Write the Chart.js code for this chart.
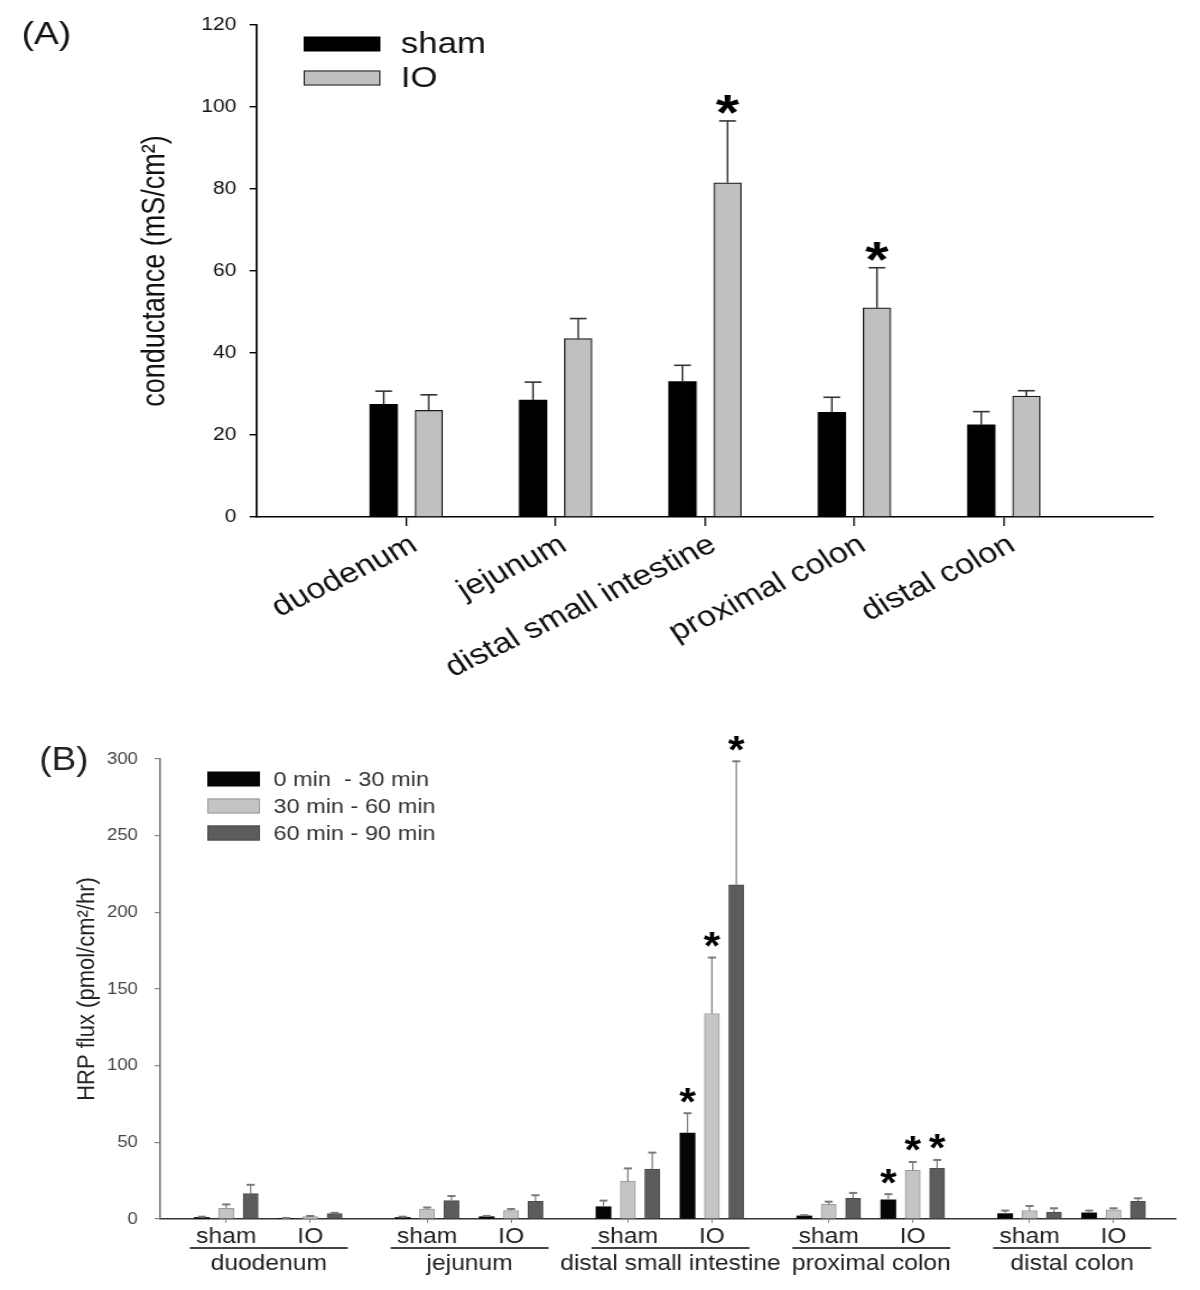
<!DOCTYPE html>
<html><head><meta charset="utf-8">
<script src="https://cdn.jsdelivr.net/npm/chart.js@4.4.1/dist/chart.umd.min.js"></script>
<style>
html,body{margin:0;padding:0;background:#fff;}
#wrap{position:relative;width:1200px;height:1290px;background:#fff;overflow:hidden;}
canvas{position:absolute;left:0;}
</style></head><body>
<div id="wrap">
<canvas id="a" width="1000" height="700" style="top:0px;width:1200px;height:700px;"></canvas>
<canvas id="b" width="1071" height="590" style="top:700px;width:1200px;height:590px;"></canvas>
</div>
<script>
const FONT = '"Liberation Sans", Arial, sans-serif';

// ---------- Panel A data ----------
const panelA = '(A)';
const regionsA = ['duodenum', 'jejunum', 'distal small intestine', 'proximal colon', 'distal colon'];
const groupsA = ['sham', 'IO'];
const shamA   = [27.5, 28.5, 33.0, 25.5, 22.5];
const shamSEA = [3.2, 4.4, 4.0, 3.7, 3.2];
const ioA     = [26.0, 43.5, 81.5, 51.0, 29.5];
const ioSEA   = [3.8, 4.9, 15.1, 9.8, 1.3];
const sigShamA = [false, false, false, false, false];
const sigIoA   = [false, false, true, true, false];
const yTicksA  = [0, 20, 40, 60, 80, 100, 120];

// ---------- Panel B data ----------
const panelB = '(B)';
const regionsB = ['duodenum', 'jejunum', 'distal small intestine', 'proximal colon', 'distal colon'];
const conditionsB = ['sham', 'IO'];
const periodsB = ['0 min  - 30 min', '30 min - 60 min', '60 min - 90 min'];
// order: duodenum sham, duodenum IO, jejunum sham, jejunum IO, dsi sham, dsi IO, pc sham, pc IO, dc sham, dc IO
const flux0_30    = [1.0, 0.4, 1.0, 1.5, 8.0, 56.0, 2.0, 12.5, 3.5, 4.0];
const flux0_30SE  = [0.5, 0.3, 0.5, 0.5, 4.0, 13.0, 0.5, 3.7, 2.0, 1.5];
const flux30_60   = [7.0, 1.5, 6.5, 5.5, 24.7, 134.0, 9.5, 31.8, 5.5, 6.0];
const flux30_60SE = [2.5, 0.5, 1.0, 1.0, 8.3, 36.5, 1.8, 5.4, 3.0, 1.0];
const flux60_90   = [16.5, 3.5, 12.0, 11.5, 32.5, 218.0, 13.5, 33.0, 4.5, 11.5];
const flux60_90SE = [5.8, 0.5, 3.0, 4.0, 10.8, 80.5, 3.5, 5.5, 2.5, 2.0];
const sig0_30  = [false, false, false, false, false, true, false, true, false, false];
const sig30_60 = [false, false, false, false, false, true, false, true, false, false];
const sig60_90 = [false, false, false, false, false, true, false, true, false, false];
const yTicksB  = [0, 50, 100, 150, 200, 250, 300];

// ---------- shared plugins ----------
function drawStar(ctx, x, centerY, size, color) {
  ctx.save();
  ctx.font = 'bold ' + size + 'px ' + FONT;
  ctx.fillStyle = color;
  ctx.textAlign = 'center';
  ctx.textBaseline = 'alphabetic';
  const m = ctx.measureText('*');
  const base = centerY - (m.actualBoundingBoxDescent - m.actualBoundingBoxAscent) / 2;
  ctx.fillText('*', x, base);
  ctx.restore();
}

const errorBarPlugin = {
  id: 'errbars',
  afterDatasetsDraw(chart, args, opts) {
    const ctx = chart.ctx;
    const ys = chart.scales.y;
    chart.data.datasets.forEach((ds, di) => {
      const meta = chart.getDatasetMeta(di);
      meta.data.forEach((el, i) => {
        const v = ds.data[i].y;
        const e = ds.errors[i];
        const yTop = ys.getPixelForValue(v + e);
        ctx.save();
        ctx.strokeStyle = opts.color;
        ctx.lineWidth = opts.lineWidth;
        ctx.beginPath();
        ctx.moveTo(el.x, el.y);
        ctx.lineTo(el.x, yTop);
        ctx.stroke();
        ctx.lineWidth = opts.capWidth;
        ctx.beginPath();
        ctx.moveTo(el.x - opts.cap, yTop);
        ctx.lineTo(el.x + opts.cap, yTop);
        ctx.stroke();
        ctx.restore();
        if (ds.sig && ds.sig[i]) {
          drawStar(ctx, el.x, yTop - opts.starGap, opts.starSize, '#000');
        }
      });
    });
  }
};

const customLegend = {
  id: 'customLegend',
  afterDraw(chart, args, opts) {
    const ctx = chart.ctx;
    chart.data.datasets.forEach((ds, i) => {
      const y = opts.y + i * opts.step;
      ctx.save();
      ctx.fillStyle = ds.backgroundColor;
      ctx.fillRect(opts.x, y - opts.boxH / 2, opts.boxW, opts.boxH);
      if (ds.borderWidth) {
        ctx.strokeStyle = ds.borderColor;
        ctx.lineWidth = 1;
        ctx.strokeRect(opts.x + 0.5, y - opts.boxH / 2 + 0.5, opts.boxW - 1, opts.boxH - 1);
      }
      ctx.font = opts.fontSize + 'px ' + FONT;
      ctx.fillStyle = opts.color;
      ctx.textAlign = 'left';
      ctx.textBaseline = 'middle';
      ctx.fillText(ds.label, opts.x + opts.boxW + opts.gap, y + 1);
      ctx.restore();
    });
  }
};

const panelLabel = {
  id: 'panelLabel',
  afterDraw(chart, args, opts) {
    const ctx = chart.ctx;
    ctx.save();
    ctx.font = opts.size + 'px ' + FONT;
    ctx.fillStyle = opts.color;
    ctx.textAlign = 'left';
    ctx.textBaseline = 'middle';
    ctx.fillText(opts.text, opts.x, opts.y);
    ctx.restore();
  }
};

// ---------- Panel A ----------
const offA = 0.151;
const xA = (r, g) => r + 1 + (g === 0 ? -offA : offA);
new Chart(document.getElementById('a'), {
  type: 'bar',
  data: {
    datasets: [
      {
        label: groupsA[0],
        data: shamA.map((v, i) => ({ x: xA(i, 0), y: v })),
        errors: shamSEA, sig: sigShamA,
        backgroundColor: '#000000', borderColor: '#000000', borderWidth: 0,
        barThickness: 23, grouped: false
      },
      {
        label: groupsA[1],
        data: ioA.map((v, i) => ({ x: xA(i, 1), y: v })),
        errors: ioSEA, sig: sigIoA,
        backgroundColor: '#c0c0c0', borderColor: '#1a1a1a', borderWidth: 1.2,
        barThickness: 23, grouped: false
      }
    ]
  },
  options: {
    responsive: false, animation: false, devicePixelRatio: 1,
    layout: { padding: { left: 0, right: 39, top: 25, bottom: 0 } },
    plugins: {
      legend: { display: false }, tooltip: { enabled: false },
      errbars: { color: '#333', lineWidth: 1.4, capWidth: 1.6, cap: 7, starGap: 16, starSize: 50 },
      customLegend: { x: 253, y: 44, step: 34, boxW: 64, boxH: 15, gap: 17, fontSize: 29, color: '#111' },
      panelLabel: { text: panelA, x: 18, y: 35, size: 31, color: '#111' }
    },
    scales: {
      x: {
        type: 'linear', min: 0, max: 6, offset: false,
        afterBuildTicks: (s) => { s.ticks = regionsA.map((_, i) => ({ value: i + 1 })); },
        afterFit: (s) => { s.height = 183; },
        border: { display: true, color: '#000', width: 1.6 },
        grid: { offset: false, drawOnChartArea: false, drawTicks: true, tickLength: 9, color: '#000', lineWidth: 1.3 },
        ticks: {
          minRotation: 30, maxRotation: 30, padding: 2, labelOffset: 7, autoSkip: false,
          color: '#111', font: { family: FONT, size: 28.5 },
          callback: (v, i) => regionsA[i]
        }
      },
      y: {
        type: 'linear', min: 0, max: 120,
        afterBuildTicks: (s) => { s.ticks = yTicksA.map(v => ({ value: v })); },
        afterFit: (s) => { s.width = 214; },
        border: { display: true, color: '#000', width: 1.6 },
        grid: { drawOnChartArea: false, drawTicks: true, tickLength: 6, color: '#000', lineWidth: 1.4 },
        ticks: { padding: 11, color: '#111', font: { family: FONT, size: 17.5 } },
        title: {
          display: true, text: 'conductance (mS/cm²)', color: '#111',
          font: { family: FONT, size: 27 }, padding: { top: 113, bottom: 0 }
        }
      }
    }
  },
  plugins: [errorBarPlugin, customLegend, panelLabel]
});

// ---------- Panel B ----------
const xB = (r, c, p) => 1.65 + 5.02 * r + 2.1 * c + 0.61 * (p - 1);
const subIdx = regionsB.flatMap((_, r) => conditionsB.map((_, c) => [r, c]));
const mk = (label, vals, errs, sig, p, bg, bc, bw) => ({
  label,
  data: vals.map((v, i) => ({ x: xB(subIdx[i][0], subIdx[i][1], p), y: v })),
  errors: errs, sig,
  backgroundColor: bg, borderColor: bc, borderWidth: bw,
  barThickness: 13.4, grouped: false
});

const groupLabelsB = {
  id: 'groupLabelsB',
  afterDraw(chart) {
    const ctx = chart.ctx;
    const xs = chart.scales.x;
    const m0 = chart.getDatasetMeta(0), m2 = chart.getDatasetMeta(2);
    regionsB.forEach((name, r) => {
      const a = m0.data[2 * r], b = m2.data[2 * r + 1];
      const left = a.x - a.width / 2 - 4, right = b.x + b.width / 2 + 5;
      const y = xs.top + 29;
      ctx.save();
      ctx.strokeStyle = '#444';
      ctx.lineWidth = 2;
      ctx.beginPath();
      ctx.moveTo(left, y);
      ctx.lineTo(right, y);
      ctx.stroke();
      ctx.font = '22px ' + FONT;
      ctx.fillStyle = '#222';
      ctx.textAlign = 'center';
      ctx.textBaseline = 'middle';
      ctx.fillText(name, (left + right) / 2, y + 16);
      ctx.restore();
    });
  }
};

new Chart(document.getElementById('b'), {
  type: 'bar',
  data: {
    datasets: [
      mk(periodsB[0], flux0_30, flux0_30SE, sig0_30, 0, '#050505', '#050505', 0),
      mk(periodsB[1], flux30_60, flux30_60SE, sig30_60, 1, '#c4c4c4', '#9a9a9a', 1),
      mk(periodsB[2], flux60_90, flux60_90SE, sig60_90, 2, '#5c5c5c', '#4a4a4a', 1)
    ]
  },
  options: {
    responsive: false, animation: false, devicePixelRatio: 1,
    layout: { padding: { left: 0, right: 22, top: 59, bottom: 0 } },
    plugins: {
      legend: { display: false }, tooltip: { enabled: false },
      errbars: { color: '#7a7a7a', lineWidth: 1.2, capWidth: 2, cap: 3.6, starGap: 18, starSize: 38 },
      customLegend: { x: 185, y: 79, step: 27, boxW: 47, boxH: 15, gap: 12, fontSize: 21, color: '#333' },
      panelLabel: { text: panelB, x: 35, y: 61, size: 33, color: '#222' }
    },
    scales: {
      x: {
        type: 'linear', min: 0, max: 25.375, offset: false,
        afterBuildTicks: (s) => { s.ticks = subIdx.map(([r, c]) => ({ value: xB(r, c, 1) })); },
        afterFit: (s) => { s.height = 71; },
        border: { display: true, color: '#333', width: 1.6 },
        grid: { offset: false, drawOnChartArea: false, drawTicks: true, tickLength: 4, color: '#888', lineWidth: 1 },
        ticks: {
          minRotation: 0, maxRotation: 0, padding: 1, autoSkip: false,
          color: '#222', font: { family: FONT, size: 22 },
          callback: (v, i) => conditionsB[subIdx[i][1]]
        }
      },
      y: {
        type: 'linear', min: 0, max: 300,
        afterBuildTicks: (s) => { s.ticks = yTicksB.map(v => ({ value: v })); },
        afterFit: (s) => { s.width = 143; },
        border: { display: true, color: '#777', width: 1.6 },
        grid: { drawOnChartArea: false, drawTicks: true, tickLength: 5, color: '#888', lineWidth: 1.2 },
        ticks: { padding: 15, color: '#444', font: { family: FONT, size: 16.5 } },
        title: {
          display: true, text: 'HRP flux (pmol/cm²/hr)', color: '#222',
          font: { family: FONT, size: 22 }, padding: { top: 65, bottom: 0 }
        }
      }
    }
  },
  plugins: [errorBarPlugin, customLegend, groupLabelsB, panelLabel]
});
</script>
</body></html>
